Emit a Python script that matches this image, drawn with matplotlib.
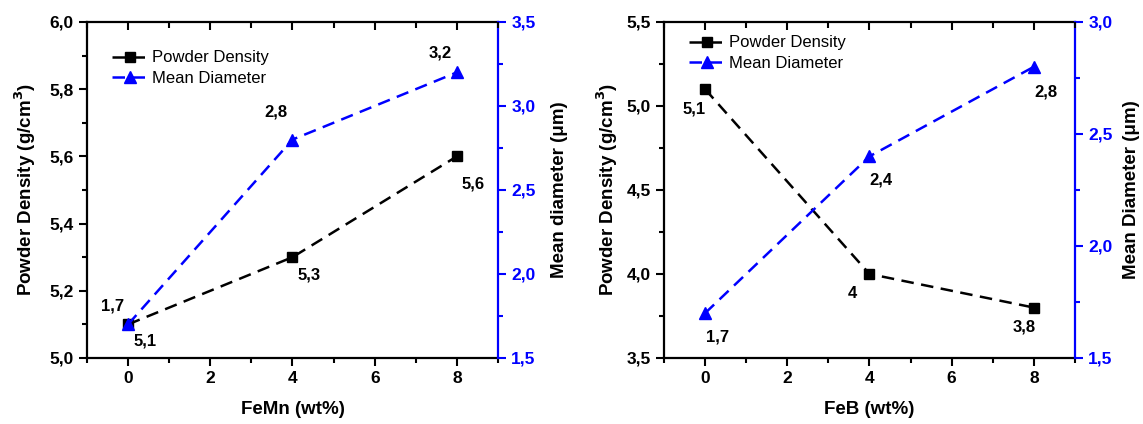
import matplotlib
matplotlib.use("Agg")
import matplotlib.pyplot as plt
from matplotlib.ticker import MultipleLocator, FuncFormatter

plt.rcParams["font.family"] = ["Liberation Sans", "DejaVu Sans"]

# data
wt = [0, 4, 8]
femn_density = [5.1, 5.3, 5.6]
femn_diameter = [1.7, 2.8, 3.2]
feb_density = [5.1, 4.0, 3.8]
feb_diameter = [1.7, 2.4, 2.8]

femn_density_labels = ["5,1", "5,3", "5,6"]
femn_diameter_labels = ["1,7", "2,8", "3,2"]
feb_density_labels = ["5,1", "4", "3,8"]
feb_diameter_labels = ["1,7", "2,4", "2,8"]

BLUE = "#0000ff"
TICK_FS = 12.5
comma = FuncFormatter(lambda v, p: f"{v:.1f}".replace(".", ","))
intfmt = FuncFormatter(lambda v, p: f"{v:.0f}")


def style_axes(ax, ax2, y_major, y_minor, y2_major, y2_minor):
    ax.set_xlim(-1, 9)
    ax.xaxis.set_major_locator(MultipleLocator(2))
    ax.xaxis.set_minor_locator(MultipleLocator(1))
    ax.xaxis.set_major_formatter(intfmt)
    ax.yaxis.set_major_locator(MultipleLocator(y_major))
    ax.yaxis.set_minor_locator(MultipleLocator(y_minor))
    ax.yaxis.set_major_formatter(comma)
    ax.tick_params(axis="x", which="both", direction="out", top=False, width=1.5)
    ax.tick_params(axis="y", which="both", direction="out", right=False, width=1.5)
    ax.tick_params(which="major", length=6, labelsize=TICK_FS)
    ax.tick_params(which="minor", length=3.5)
    for lab in ax.get_xticklabels() + ax.get_yticklabels():
        lab.set_fontweight("bold")

    # inward ticks on the top spine
    top = ax.twiny()
    top.set_xlim(ax.get_xlim())
    top.xaxis.set_major_locator(MultipleLocator(2))
    top.xaxis.set_minor_locator(MultipleLocator(1))
    top.tick_params(axis="x", which="both", direction="in", labeltop=False,
                    width=1.5, color="black")
    top.tick_params(which="major", length=6)
    top.tick_params(which="minor", length=4)
    for s in top.spines.values():
        s.set_visible(False)

    ax2.yaxis.set_major_locator(MultipleLocator(y2_major))
    ax2.yaxis.set_minor_locator(MultipleLocator(y2_minor))
    ax2.yaxis.set_major_formatter(comma)
    ax2.tick_params(axis="y", which="both", direction="out", colors=BLUE, width=1.5)
    ax2.tick_params(which="major", length=6, labelsize=TICK_FS)
    ax2.tick_params(which="minor", length=3.5)
    for lab in ax2.get_yticklabels():
        lab.set_fontweight("bold")
    ax2.spines["right"].set_color(BLUE)
    for s in ["left", "bottom", "top"]:
        ax.spines[s].set_linewidth(1.6)
    ax.spines["right"].set_visible(False)
    ax2.spines["right"].set_linewidth(1.6)
    for s in ["left", "bottom", "top"]:
        ax2.spines[s].set_visible(False)


def annotate(ax, xs, ys, labels, offsets):
    for x, y, t, (dx, dy) in zip(xs, ys, labels, offsets):
        ax.annotate(t, (x, y), xytext=(dx, dy), textcoords="offset points",
                    ha="center", va="center", fontsize=12, fontweight="bold")


fig = plt.figure(figsize=(11.43, 4.24), dpi=100)
ax1 = fig.add_axes([0.0761, 0.1557, 0.3596, 0.7925])
ax1b = ax1.twinx()
ax3 = fig.add_axes([0.5809, 0.1557, 0.3596, 0.7925])
ax3b = ax3.twinx()

dash = (0, (5, 3))
LW = 1.8

# FeMn panel
l1, = ax1.plot(wt, femn_density, color="black", ls=dash, lw=LW, marker="s",
               ms=7.5, label="Powder Density")
l2, = ax1b.plot(wt, femn_diameter, color=BLUE, ls=dash, lw=LW, marker="^",
                ms=9, label="Mean Diameter")
ax1.set_ylim(5.0, 6.0)
ax1b.set_ylim(1.5, 3.5)
style_axes(ax1, ax1b, 0.2, 0.1, 0.5, 0.25)
annotate(ax1, wt, femn_density, femn_density_labels, [(12, -12), (12, -13), (12, -20)])
annotate(ax1b, wt, femn_diameter, femn_diameter_labels, [(-11, 13), (-12, 20), (-12, 14)])
ax1.set_xlabel("FeMn (wt%)", fontsize=13.5, fontweight="bold", labelpad=11)
ax1.set_ylabel("Powder Density (g/cm$^\\mathbf{3}$)", fontsize=13.5, fontweight="bold")
ax1b.set_ylabel("Mean diameter (μm)", fontsize=13.5, fontweight="bold")
ax1.yaxis.set_label_coords(-0.118, 0.5)
ax1b.yaxis.set_label_coords(1.13, 0.5)
ax1.legend(handles=[l1, l2], loc="upper left", bbox_to_anchor=(0.04, 0.94),
           frameon=False, fontsize=12, handlelength=2.2, handletextpad=0.2,
           borderpad=0, labelspacing=0.35)

# FeB panel
l3, = ax3.plot(wt, feb_density, color="black", ls=dash, lw=LW, marker="s",
               ms=7.5, label="Powder Density")
l4, = ax3b.plot(wt, feb_diameter, color=BLUE, ls=dash, lw=LW, marker="^",
                ms=9, label="Mean Diameter")
ax3.set_ylim(3.5, 5.5)
ax3b.set_ylim(1.5, 3.0)
style_axes(ax3, ax3b, 0.5, 0.25, 0.5, 0.25)
annotate(ax3, wt, feb_density, feb_density_labels, [(-8, -14), (-12, -14), (-7, -14)])
annotate(ax3b, wt, feb_diameter, feb_diameter_labels, [(9, -17), (8, -17), (9, -18)])
ax3.set_xlabel("FeB (wt%)", fontsize=13.5, fontweight="bold", labelpad=11)
ax3.set_ylabel("Powder Density (g/cm$^\\mathbf{3}$)", fontsize=13.5, fontweight="bold")
ax3b.set_ylabel("Mean Diameter (μm)", fontsize=13.5, fontweight="bold")
ax3.yaxis.set_label_coords(-0.108, 0.5)
ax3b.yaxis.set_label_coords(1.118, 0.5)
ax3.legend(handles=[l3, l4], loc="upper left", bbox_to_anchor=(0.04, 0.985),
           frameon=False, fontsize=12, handlelength=2.2, handletextpad=0.2,
           borderpad=0, labelspacing=0.35)

fig.savefig("out.png", dpi=100)
